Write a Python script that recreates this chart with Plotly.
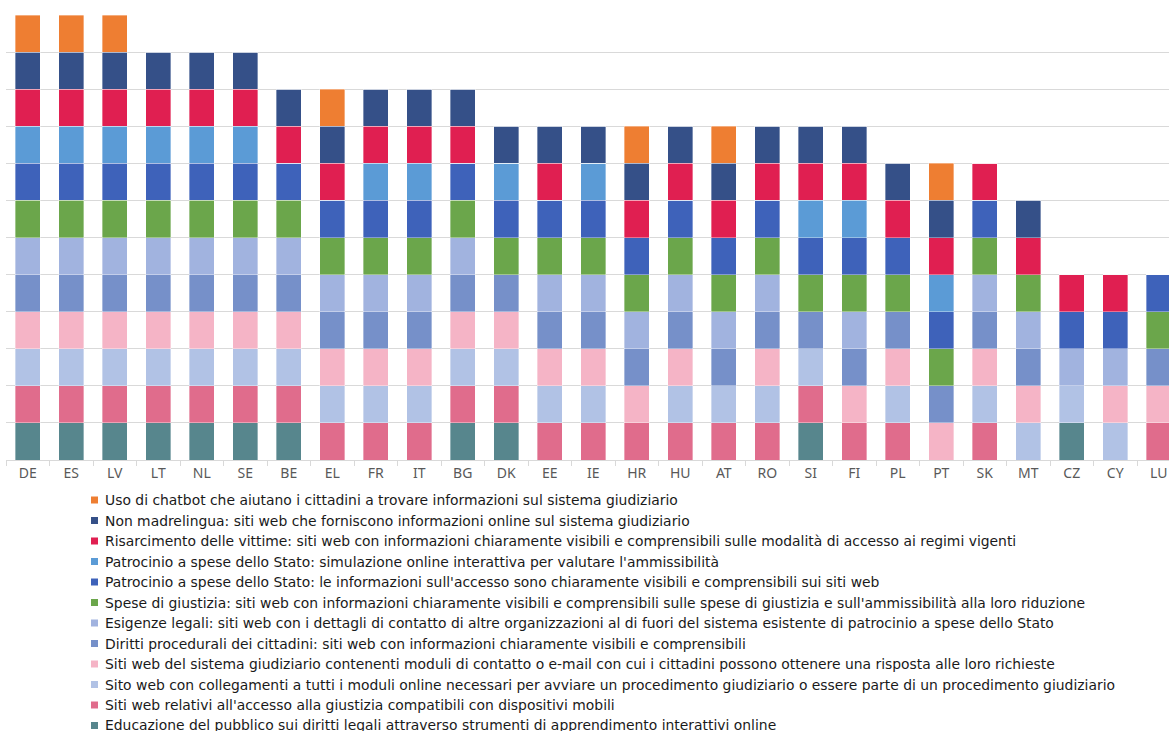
import plotly.graph_objects as go

# Paesi (ordine dell'asse x)
countries = ["DE", "ES", "LV", "LT", "NL", "SE", "BE", "EL", "FR", "IT", "BG", "DK", "EE", "IE",
             "HR", "HU", "AT", "RO", "SI", "FI", "PL", "PT", "SK", "MT", "CZ", "CY", "LU"]

# Indicatori, dal basso verso l'alto della pila (1 = presente, 0 = assente)
educazione   = [1,1,1,1,1,1,1,0,0,0,1,1,0,0,0,0,0,0,1,0,0,0,0,0,1,0,0]
mobili       = [1,1,1,1,1,1,1,1,1,1,1,1,1,1,1,1,1,1,1,1,1,0,1,0,0,0,1]
moduli       = [1,1,1,1,1,1,1,1,1,1,1,1,1,1,0,1,1,1,1,0,1,0,1,1,1,1,0]
contatto     = [1,1,1,1,1,1,1,1,1,1,1,1,1,1,1,1,0,1,0,1,1,1,1,1,0,1,1]
diritti      = [1,1,1,1,1,1,1,1,1,1,1,1,1,1,1,1,1,1,1,1,1,1,1,1,0,0,1]
esigenze     = [1,1,1,1,1,1,1,1,1,1,1,0,1,1,1,1,1,1,0,1,0,0,1,1,1,1,0]
spese        = [1,1,1,1,1,1,1,1,1,1,1,1,1,1,1,1,1,1,1,1,1,1,1,1,0,0,1]
patr_info    = [1,1,1,1,1,1,1,1,1,1,1,1,1,1,1,1,1,1,1,1,1,1,1,0,1,1,1]
patr_sim     = [1,1,1,1,1,1,0,0,1,1,0,1,0,1,0,0,0,0,1,1,0,1,0,0,0,0,0]
risarcimento = [1,1,1,1,1,1,1,1,1,1,1,0,1,0,1,1,1,1,1,1,1,1,1,1,1,1,0]
madrelingua  = [1,1,1,1,1,1,1,1,1,1,1,1,1,1,1,1,1,1,1,1,1,1,0,1,0,0,0]
chatbot      = [1,1,1,0,0,0,0,1,0,0,0,0,0,0,1,0,1,0,0,0,0,1,0,0,0,0,0]

labels = [
    "Educazione del pubblico sui diritti legali attraverso strumenti di apprendimento interattivi online",
    "Siti web relativi all'accesso alla giustizia compatibili con dispositivi mobili",
    "Sito web con collegamenti a tutti i moduli online necessari per avviare un procedimento giudiziario o essere parte di un procedimento giudiziario",
    "Siti web del sistema giudiziario contenenti moduli di contatto o e-mail con cui i cittadini possono ottenere una risposta alle loro richieste",
    "Diritti procedurali dei cittadini: siti web con informazioni chiaramente visibili e comprensibili",
    "Esigenze legali: siti web con i dettagli di contatto di altre organizzazioni al di fuori del sistema esistente di patrocinio a spese dello Stato",
    "Spese di giustizia: siti web con informazioni chiaramente visibili e comprensibili sulle spese di giustizia e sull'ammissibilità alla loro riduzione",
    "Patrocinio a spese dello Stato: le informazioni sull'accesso sono chiaramente visibili e comprensibili sui siti web",
    "Patrocinio a spese dello Stato: simulazione online interattiva per valutare l'ammissibilità",
    "Risarcimento delle vittime: siti web con informazioni chiaramente visibili e comprensibili sulle modalità di accesso ai regimi vigenti",
    "Non madrelingua: siti web che forniscono informazioni online sul sistema giudiziario",
    "Uso di chatbot che aiutano i cittadini a trovare informazioni sul sistema giudiziario",
]
series = [educazione, mobili, moduli, contatto, diritti, esigenze, spese,
          patr_info, patr_sim, risarcimento, madrelingua, chatbot]
colors = ["#57868D", "#E06C8C", "#B1C2E5", "#F5B4C6", "#7690C9", "#A1B3DF",
          "#6BA64B", "#3E62BA", "#5B9BD6", "#E01F51", "#355088", "#EE7E32"]

W, H = 1169, 731
L, R, T, B = 6, 0, 15, 271
plot_w = W - L - R
plot_h = H - T - B
cat_w = 43.5

fig = go.Figure()
for name, vals, col in zip(labels, series, colors):
    fig.add_trace(go.Bar(
        x=countries, y=vals, name=name,
        marker=dict(color=col, line=dict(color="rgba(255,255,255,0.6)", width=0.6)),
        showlegend=False,
    ))

# Legenda disegnata a mano: quadratini colorati + testo
row0, row_step = 500, 20.5
for i, (name, col) in enumerate(reversed(list(zip(labels, colors)))):
    yc = row0 + i * row_step
    fig.add_shape(type="rect", xref="paper", yref="paper",
                  x0=(91 - L) / plot_w, x1=(98 - L) / plot_w,
                  y0=(H - B - (yc + 3.5)) / plot_h, y1=(H - B - (yc - 3.5)) / plot_h,
                  fillcolor=col, line=dict(width=0))
    fig.add_annotation(text=name, xref="paper", yref="paper",
                       x=(102.5 - L) / plot_w, y=(H - B - yc) / plot_h,
                       xanchor="left", yanchor="middle", showarrow=False,
                       font=dict(family="DejaVu Sans", size=13.9, color="#1A1A1A"))

fig.update_layout(
    width=W, height=H,
    margin=dict(l=L, r=R, t=T, b=B, pad=0),
    barmode="stack", bargap=0.425,
    plot_bgcolor="white", paper_bgcolor="white",
    font=dict(family="Noto Sans", color="#595959"),
    showlegend=False,
)
fig.update_xaxes(
    range=[-0.5, -0.5 + plot_w / cat_w],
    showline=True, linecolor="#D9D9D9", linewidth=1,
    ticks="outside", tickson="boundaries", ticklen=5, tickcolor="#D9D9D9",
    tickfont=dict(size=14, color="#595959"), showgrid=False,
)
fig.update_yaxes(
    range=[0, 12], dtick=1, showgrid=True, gridcolor="#D9D9D9", gridwidth=1,
    showticklabels=False, zeroline=False, showline=False,
)

fig.write_html("out.html")
